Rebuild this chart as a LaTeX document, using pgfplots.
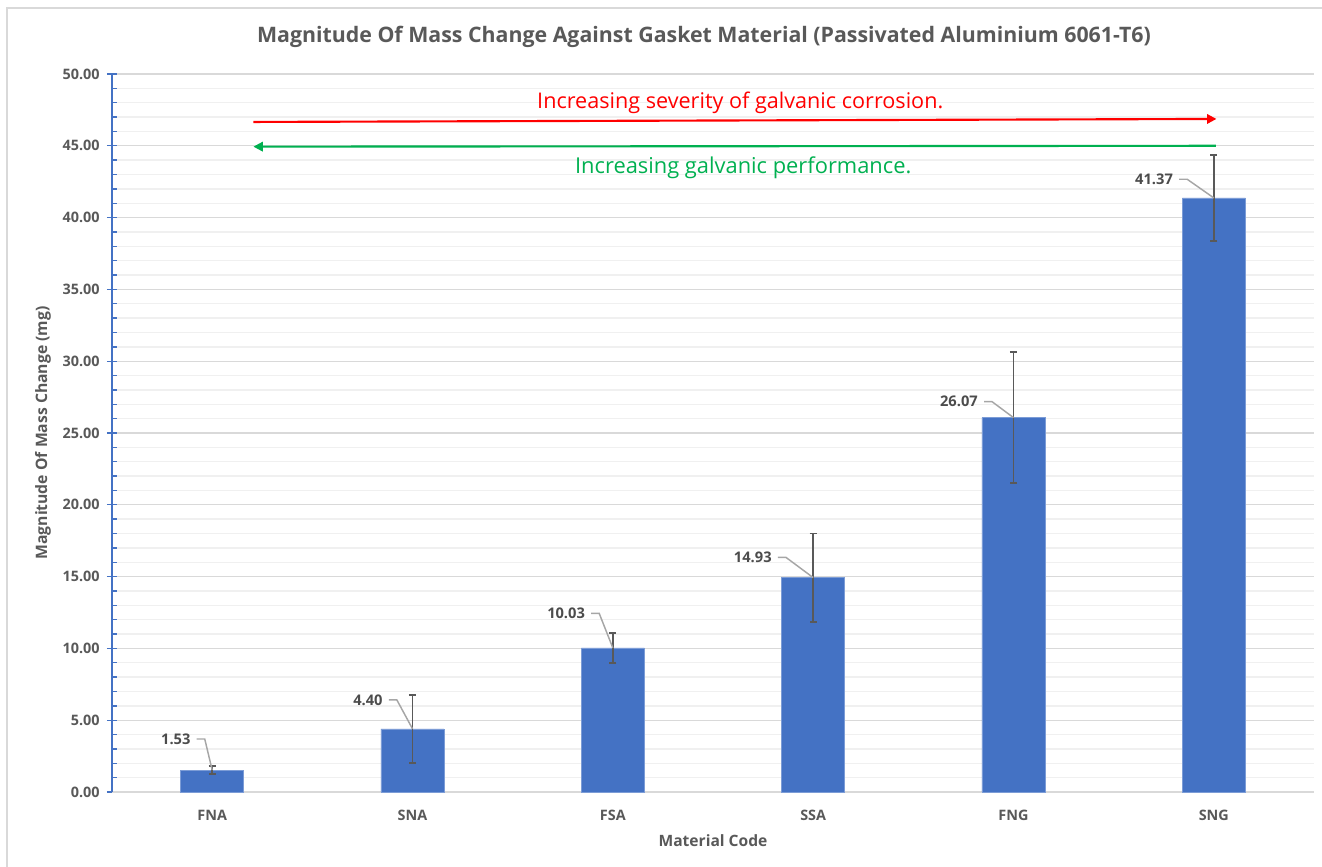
\documentclass[border=0pt]{standalone}
\usepackage{fontspec}
\setmainfont{Open Sans}
\usepackage{pgfplots}
\pgfplotsset{compat=1.18}
\usepackage{pgfplotstable}
\usetikzlibrary{arrows.meta}
\definecolor{barblue}{HTML}{4472C4}
\definecolor{txtgray}{HTML}{595959}
\definecolor{majgrid}{HTML}{D9D9D9}
\definecolor{mingrid}{HTML}{F0F0F0}
\definecolor{leader}{HTML}{A6A6A6}
\definecolor{arrred}{HTML}{FF0000}
\definecolor{arrgreen}{HTML}{00B050}
\pgfplotstableread{
x y err
0 1.53 0.27
1 4.40 2.37
2 10.03 1.03
3 14.93 3.07
4 26.07 4.57
5 41.37 3.00
}\datatable
\begin{document}
\begin{tikzpicture}
\path[use as bounding box] (-84pt,-56.25pt) rectangle (907.5pt,594pt);
\draw[majgrid, line width=1pt] (-78.75pt,-56.25pt) -- (-78.75pt,588pt) -- (907.5pt,588pt);
\begin{axis}[
  at={(0pt,0pt)}, anchor=south west,
  scale only axis, width=901.5pt, height=538.5pt,
  xmin=-0.5, xmax=5.5, ymin=0, ymax=50,
  axis x line*=bottom, axis y line*=left,
  x axis line style={majgrid, line width=1.5pt},
  y axis line style={barblue, line width=1pt},
  xtick=data,
  xticklabels={FNA,SNA,FSA,SSA,FNG,SNG},
  xtick style={draw=none},
  ytick distance=5,
  minor y tick num=4,
  ymajorgrids, yminorgrids,
  major grid style={majgrid, line width=1pt},
  minor grid style={mingrid, line width=1pt},
  tick align=center,
  major tick length=7.5pt,
  minor tick length=3.75pt,
  every minor tick/.append style={xshift=1.875pt},
  ytick style={barblue, line width=1pt},
  /pgf/number format/.cd, fixed, fixed zerofill, precision=2, assume math mode=true,
  /pgfplots/.cd,
  yticklabel style={font=\fontsize{10.8}{12}\selectfont\bfseries, text=txtgray, xshift=-2pt},
  xticklabel style={font=\fontsize{10.8}{12}\selectfont\bfseries, text=txtgray, yshift=-6pt},
  title={Magnitude Of Mass Change Against Gasket Material (Passivated Aluminium 6061-T6)},
  title style={at={(axis description cs:0.4925,1.0404)}, anchor=center, font=\fontsize{16}{19}\selectfont\bfseries, text=txtgray},
  xlabel={Material Code},
  xlabel style={at={(axis description cs:0.5,-0.0682)}, anchor=center, font=\fontsize{11.7}{14}\selectfont\bfseries, text=txtgray},
  ylabel={Magnitude Of Mass Change (mg)},
  ylabel style={at={(axis description cs:-0.0574,0.5)}, anchor=center, rotate=0, font=\fontsize{11.8}{14}\selectfont\bfseries, text=txtgray},
  clip=false,
]
\addplot[ybar, bar width=47.25pt, fill=barblue, draw=barblue!70!white,
  error bars/.cd, y dir=both, y explicit,
  error bar style={color=txtgray, line width=1.4pt},
  error mark options={rotate=90, mark size=2.7pt, line width=1.4pt, color=txtgray}]
  table[x=x, y=y, y error=err] {\datatable};
% data labels with leader lines
\foreach \xc/\v/\xr/\ly/\lab in {0/1.53/-0.107/3.69/1.53, 1/4.40/0.852/6.41/4.40, 2/10.03/1.862/12.44/10.03, 3/14.93/2.794/16.34/14.93, 4/26.07/3.823/27.18/26.07, 5/41.37/4.797/42.67/41.37}{
  \edef\tmp{\noexpand\draw[leader, line width=1.1pt] (axis cs:\xr+0.03,\ly) -- (axis cs:\xr+0.07,\ly) -- (axis cs:\xc,\v);
  \noexpand\node[anchor=east, inner sep=0pt, font=\noexpand\fontsize{11}{12}\noexpand\selectfont\noexpand\bfseries, text=txtgray!85!black] at (axis cs:\xr,\ly) {\lab};}
  \tmp
}
% arrows
\draw[arrred, line width=1.6pt, -{Triangle[length=7pt, width=7pt]}] (axis cs:0.206,46.66) -- (axis cs:5.013,46.87);
\draw[arrgreen, line width=1.6pt, -{Triangle[length=7pt, width=7pt]}] (axis cs:5.01,45.0) -- (axis cs:0.206,44.94);
\node[arrred, font=\fontsize{16.2}{19}\selectfont] at (axis cs:2.636,47.98) {Increasing severity of galvanic corrosion.};
\node[arrgreen, font=\fontsize{16.4}{19}\selectfont] at (axis cs:2.651,43.45) {Increasing galvanic performance.};
\end{axis}
\end{tikzpicture}
\end{document}
